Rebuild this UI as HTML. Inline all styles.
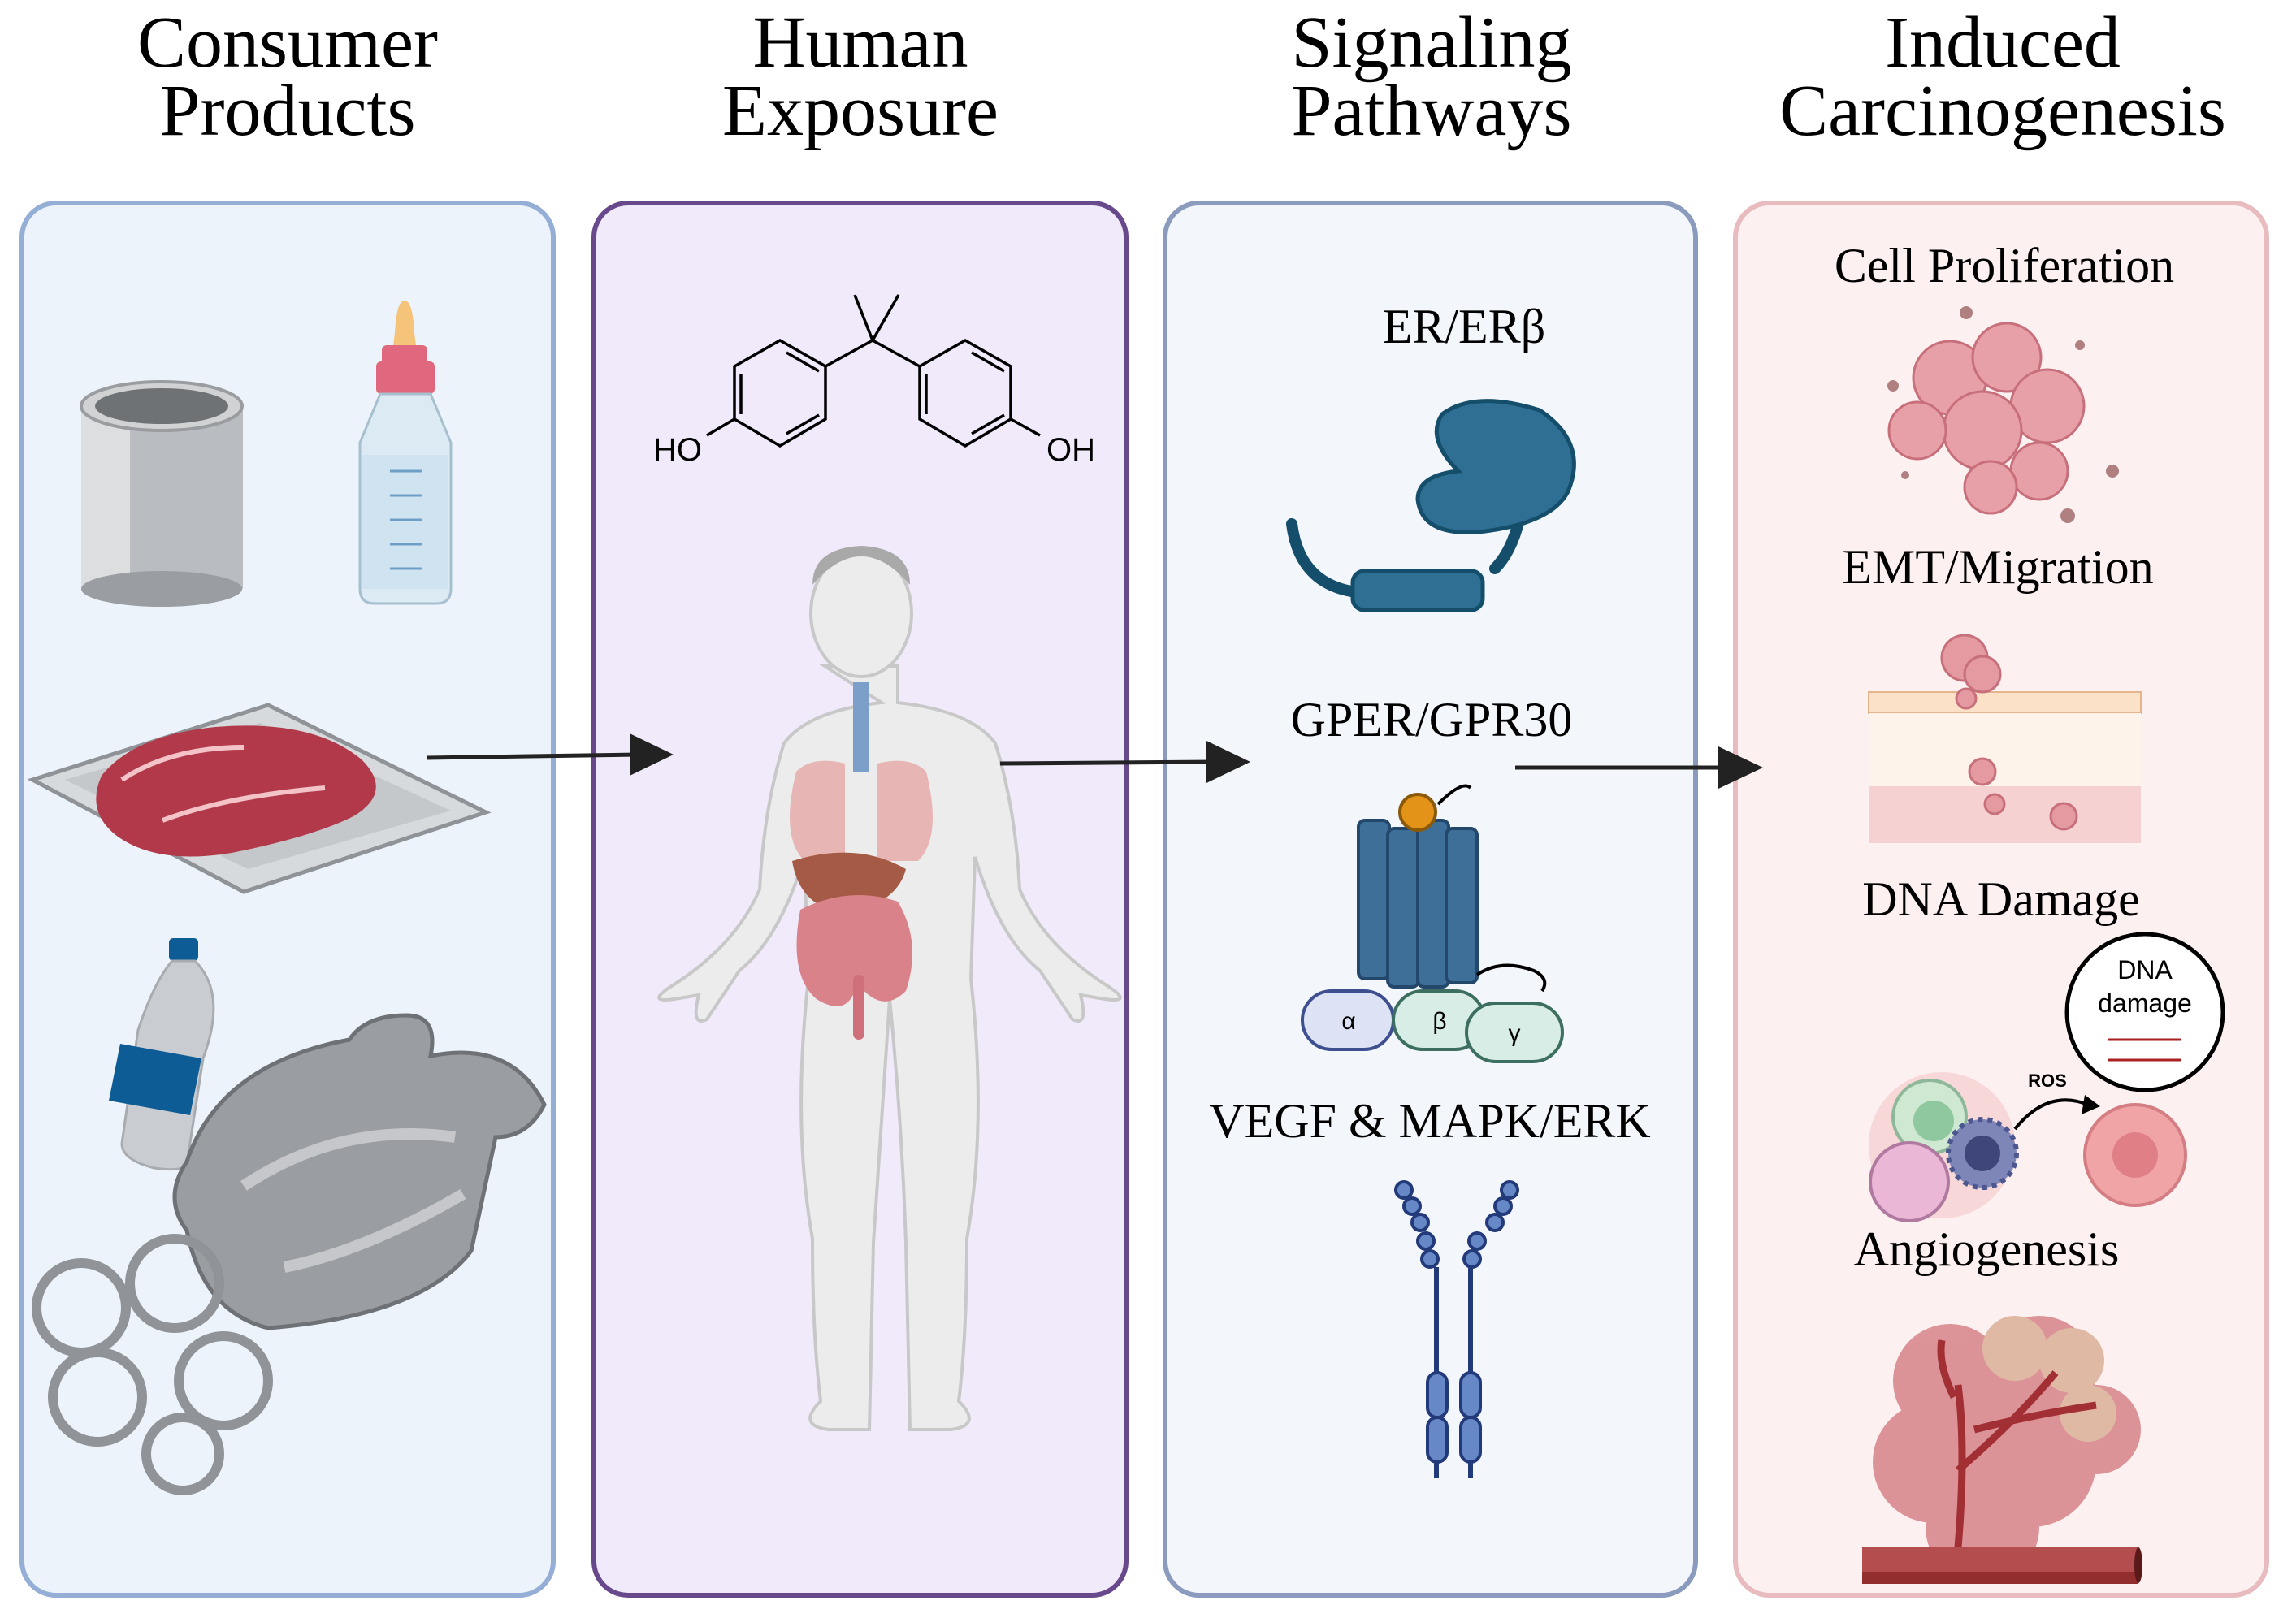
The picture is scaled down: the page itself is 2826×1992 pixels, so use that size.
<!DOCTYPE html>
<html><head><meta charset="utf-8"><style>
html,body{margin:0;padding:0;background:#fff;}
svg{display:block;}
.t{font-family:"Liberation Serif",serif;font-size:90px;fill:#000;text-anchor:middle;}
.l{font-family:"Liberation Serif",serif;font-size:60px;fill:#000;text-anchor:middle;}
.s{font-family:"Liberation Sans",sans-serif;fill:#000;text-anchor:middle;}
</style></head><body>
<svg width="2826" height="1992" viewBox="0 0 2826 1992" xmlns="http://www.w3.org/2000/svg">
<!-- titles -->
<text class="t" x="354" y="82">Consumer</text><text class="t" x="354" y="166">Products</text>
<text class="t" x="1059" y="82">Human</text><text class="t" x="1059" y="166">Exposure</text>
<text class="t" x="1762" y="82">Signaling</text><text class="t" x="1762" y="166">Pathways</text>
<text class="t" x="2465" y="82">Induced</text><text class="t" x="2465" y="166">Carcinogenesis</text>
<!-- panels -->
<rect x="27" y="250" width="654" height="1714" rx="42" fill="#edf3fb" stroke="#94aed6" stroke-width="6"/>
<rect x="731" y="250" width="655" height="1714" rx="42" fill="#f0eafa" stroke="#684a8c" stroke-width="6"/>
<rect x="1434" y="250" width="653" height="1714" rx="42" fill="#f3f6fb" stroke="#8a9bbd" stroke-width="6"/>
<rect x="2136" y="250" width="654" height="1714" rx="42" fill="#fdf0f0" stroke="#e8bcbf" stroke-width="6"/>

<!-- can -->
<rect x="100" y="500" width="199" height="225" fill="#b9bcc0"/>
<rect x="100" y="500" width="60" height="225" fill="#dcdee0"/>
<ellipse cx="199" cy="725" rx="99" ry="22" fill="#9a9ea3"/>
<ellipse cx="199" cy="500" rx="99" ry="30" fill="#d0d2d4" stroke="#9a9da0" stroke-width="4"/>
<ellipse cx="199" cy="500" rx="82" ry="22" fill="#6e7275"/>
<!-- baby bottle -->
<path d="M498 370 q10 0 12 40 l8 60 h-40 l8 -60 q2 -40 12 -40z" fill="#f5c37a"/>
<rect x="470" y="425" width="56" height="25" rx="6" fill="#e0687e"/>
<rect x="463" y="445" width="72" height="40" rx="6" fill="#e0687e"/>
<path d="M468 485 h62 l25 60 v180 q0 18 -18 18 h-76 q-18 0 -18 -18 v-180z" fill="#dbeaf3" stroke="#a7c0cf" stroke-width="3"/>
<rect x="446" y="560" width="106" height="165" fill="#cfe3f1"/>
<g stroke="#6e9fc6" stroke-width="3"><line x1="480" y1="580" x2="520" y2="580"/><line x1="480" y1="610" x2="520" y2="610"/><line x1="480" y1="640" x2="520" y2="640"/><line x1="480" y1="670" x2="520" y2="670"/><line x1="480" y1="700" x2="520" y2="700"/></g>
<!-- meat tray -->
<path d="M40 960 L330 868 L598 1000 L300 1098 Z" fill="#d7dadd" stroke="#8f9397" stroke-width="5"/>
<path d="M80 960 L320 890 L555 998 L305 1070 Z" fill="#c5c8cb"/>
<path d="M125 955 q40 -50 140 -60 q120 -10 180 40 q40 40 -10 70 q-50 25 -150 45 q-90 15 -140 -20 q-40 -30 -20 -75z" fill="#b1394a"/>
<path d="M150 960 q60 -40 150 -40 M200 1010 q80 -30 200 -40" stroke="#f3c3c8" stroke-width="6" fill="none"/>
<!-- water bottle -->
<rect x="208" y="1155" width="36" height="28" rx="5" fill="#0d5c96"/>
<path d="M212 1183 h28 q40 40 10 120 l-20 130 q-5 10 -40 5 q-40 -10 -40 -30 l20 -140 q20 -60 42 -85z" fill="#c9ccd0" stroke="#a8abaf" stroke-width="3"/>
<path d="M148 1285 l100 18 l-14 70 l-100 -18z" fill="#0d5c96"/>
<!-- bag -->
<path d="M230 1430 q40 -120 200 -150 q20 -30 70 -30 q40 0 30 50 q100 -20 140 60 q-20 40 -60 40 l-30 140 q-60 80 -250 95 q-80 -20 -100 -120 q-30 -40 0 -85z" fill="#9a9da1" stroke="#6e7276" stroke-width="5"/>
<path d="M300 1460 q120 -80 260 -60 M350 1560 q100 -20 220 -90" stroke="#c5c7ca" stroke-width="14" fill="none"/>
<!-- six pack rings -->
<g fill="none" stroke="#909397" stroke-width="12">
<circle cx="100" cy="1610" r="55"/><circle cx="215" cy="1580" r="55"/><circle cx="120" cy="1720" r="55"/><circle cx="275" cy="1700" r="55"/><circle cx="225" cy="1790" r="45"/>
</g>

<!-- BPA -->
<g fill="none" stroke="#000" stroke-width="3.5">
<polygon points="960,419 1016,451 1016,516 960,549 904,516 904,451"/>
<polygon points="1188,419 1244,451 1244,516 1188,549 1132,516 1132,451"/>
<line x1="1016" y1="451" x2="1074" y2="419"/><line x1="1074" y1="419" x2="1132" y2="451"/>
<line x1="1074" y1="419" x2="1052" y2="363"/><line x1="1074" y1="419" x2="1106" y2="363"/>
<line x1="904" y1="516" x2="870" y2="536"/><line x1="1244" y1="516" x2="1280" y2="536"/>
<line x1="968" y1="434" x2="1008" y2="457"/><line x1="912" y1="460" x2="912" y2="510"/><line x1="968" y1="534" x2="1008" y2="511"/>
<line x1="1196" y1="434" x2="1236" y2="457"/><line x1="1140" y1="460" x2="1140" y2="510"/><line x1="1196" y1="534" x2="1236" y2="511"/>
</g>
<text class="s" x="834" y="567" font-size="40">HO</text>
<text class="s" x="1318" y="567" font-size="40">OH</text>
<!-- human body -->
<g fill="#ececec" stroke="#c8c8c8" stroke-width="4">
<path d="M1015 820 h90 v45 q90 10 120 50 q25 80 30 180 q30 70 110 120 q30 20 -5 15 l-30 -5 q10 40 -10 30 l-40 -60 q-50 -40 -80 -140 l-5 150 q20 180 -5 320 q0 120 -10 200 q30 30 -10 35 h-50 l-5 -230 q-5 -150 -20 -300 q-10 150 -20 300 l-5 230 h-50 q-40 -5 -10 -35 q-10 -80 -10 -200 q-25 -140 -5 -320 l-5 -150 q-30 100 -80 140 l-40 60 q-20 10 -10 -30 l-30 5 q-35 5 -5 -15 q80 -50 110 -120 q5 -100 30 -180 q30 -40 120 -50z"/>
<ellipse cx="1060" cy="755" rx="62" ry="78"/>
</g>
<path d="M1000 720 q60 -70 120 0 q0 -45 -60 -48 q-60 3 -60 48z" fill="#a9a9a9"/>
<path d="M980 950 q-20 80 10 110 h50 v-120 q-40 -10 -60 10z M1140 950 q20 80 -10 110 h-50 v-120 q40 -10 60 10z" fill="#e7a7a7" opacity=".8"/>
<rect x="1050" y="840" width="20" height="110" fill="#7b9fc9"/>
<path d="M975 1060 q80 -25 140 10 q-10 40 -70 55 q-60 -5 -70 -65z" fill="#a55a45"/>
<path d="M985 1120 q-15 80 20 110 q40 25 50 -20 q30 40 60 10 q20 -60 -10 -110 q-60 -20 -120 10z" fill="#d9828a"/>
<rect x="1050" y="1200" width="14" height="80" rx="7" fill="#cf6f79"/>
<!-- arrows -->
<g fill="#222" stroke="#222">
<line x1="525" y1="933" x2="785" y2="929" stroke-width="5"/><polygon points="775,903 829,929 775,955" stroke="none"/>
<line x1="1231" y1="940" x2="1495" y2="938" stroke-width="5"/><polygon points="1485,912 1539,938 1485,964" stroke="none"/>
<line x1="1865" y1="945" x2="2125" y2="945" stroke-width="5"/><polygon points="2115,919 2170,945 2115,971" stroke="none"/>
</g>

<!-- panel 3 -->
<text class="l" x="1802" y="422">ER/ERβ</text>
<path d="M1590 645 q10 80 90 85 M1840 700 q20 -20 30 -60" stroke="#144e6a" stroke-width="14" fill="none" stroke-linecap="round"/>
<rect x="1665" y="703" width="160" height="48" rx="14" fill="#2e6f93" stroke="#144e6a" stroke-width="5"/>
<path d="M1775 510 q40 -30 120 -5 q60 40 35 100 q-20 40 -110 50 q-70 5 -75 -40 q0 -30 50 -35 q-40 -40 -20 -70z" fill="#2e6f93" stroke="#144e6a" stroke-width="5"/>
<text class="l" x="1762" y="906">GPER/GPR30</text>
<g fill="#3d6f99" stroke="#23486b" stroke-width="4">
<rect x="1672" y="1010" width="38" height="195" rx="8"/><rect x="1708" y="1020" width="38" height="195" rx="8"/><rect x="1745" y="1010" width="38" height="205" rx="8"/><rect x="1780" y="1020" width="38" height="190" rx="8"/>
</g>
<circle cx="1745" cy="1000" r="22" fill="#e29318" stroke="#8a5a0a" stroke-width="4"/>
<path d="M1770 990 q30 -30 40 -20 M1818 1200 q30 -20 70 -5 q20 10 10 25" stroke="#000" stroke-width="4" fill="none"/>
<rect x="1603" y="1220" width="112" height="72" rx="36" fill="#dde3f5" stroke="#3d4f8f" stroke-width="4"/>
<rect x="1715" y="1220" width="112" height="72" rx="36" fill="#d7ede6" stroke="#3d6f60" stroke-width="4"/>
<rect x="1805" y="1235" width="118" height="72" rx="36" fill="#d7ede6" stroke="#3d6f60" stroke-width="4"/>
<text class="s" x="1660" y="1267" font-size="30">α</text>
<text class="s" x="1772" y="1267" font-size="30">β</text>
<text class="s" x="1864" y="1282" font-size="30">γ</text>
<text class="l" x="1760" y="1400">VEGF &amp; MAPK/ERK</text>
<g fill="#6788c6" stroke="#22397a" stroke-width="4">
<circle cx="1728" cy="1465" r="10"/><circle cx="1738" cy="1485" r="10"/><circle cx="1748" cy="1505" r="10"/><circle cx="1755" cy="1528" r="10"/><circle cx="1760" cy="1550" r="10"/>
<circle cx="1858" cy="1465" r="10"/><circle cx="1850" cy="1485" r="10"/><circle cx="1840" cy="1505" r="10"/><circle cx="1818" cy="1528" r="10"/><circle cx="1812" cy="1550" r="10"/>
<rect x="1757" y="1690" width="24" height="55" rx="12"/><rect x="1757" y="1745" width="24" height="55" rx="12"/>
<rect x="1798" y="1690" width="24" height="55" rx="12"/><rect x="1798" y="1745" width="24" height="55" rx="12"/>
</g>
<g stroke="#22397a" stroke-width="6"><line x1="1768" y1="1560" x2="1768" y2="1690"/><line x1="1810" y1="1560" x2="1810" y2="1690"/><line x1="1768" y1="1800" x2="1768" y2="1820"/><line x1="1810" y1="1800" x2="1810" y2="1820"/></g>

<!-- panel 4 -->
<text class="l" x="2467" y="347">Cell Proliferation</text>
<g fill="#e8a0a8" stroke="#c76f7a" stroke-width="3">
<circle cx="2400" cy="465" r="45"/><circle cx="2470" cy="440" r="42"/><circle cx="2520" cy="500" r="45"/><circle cx="2440" cy="530" r="48"/><circle cx="2360" cy="530" r="35"/><circle cx="2510" cy="580" r="35"/><circle cx="2450" cy="600" r="32"/>
</g>
<g fill="#b08080"><circle cx="2420" cy="385" r="8"/><circle cx="2560" cy="425" r="6"/><circle cx="2330" cy="475" r="7"/><circle cx="2600" cy="580" r="8"/><circle cx="2545" cy="635" r="9"/><circle cx="2345" cy="585" r="5"/></g>
<text class="l" x="2459" y="718">EMT/Migration</text>
<rect x="2300" y="852" width="335" height="26" fill="#fbe1c8" stroke="#e6b48c" stroke-width="2"/>
<rect x="2300" y="878" width="335" height="90" fill="#fdf3ea"/>
<rect x="2300" y="968" width="335" height="70" fill="#f6d1d1"/>
<g fill="#e59aa1" stroke="#c76f7a" stroke-width="3"><circle cx="2418" cy="810" r="28"/><circle cx="2440" cy="830" r="22"/><circle cx="2420" cy="860" r="12"/><circle cx="2440" cy="950" r="16"/><circle cx="2455" cy="990" r="12"/><circle cx="2540" cy="1005" r="16"/></g>
<text class="l" x="2463" y="1127">DNA Damage</text>
<circle cx="2640" cy="1246" r="96" fill="#fff" stroke="#000" stroke-width="5"/>
<text class="s" x="2640" y="1205" font-size="32">DNA</text>
<text class="s" x="2640" y="1246" font-size="32">damage</text>
<g stroke="#a82020" stroke-width="3"><line x1="2595" y1="1280" x2="2685" y2="1280"/><line x1="2595" y1="1305" x2="2685" y2="1305"/></g>
<circle cx="2390" cy="1410" r="90" fill="#f4c6c6" opacity=".6"/>
<circle cx="2375" cy="1375" r="45" fill="#cfe8d2" stroke="#8fb89a" stroke-width="4"/><circle cx="2380" cy="1380" r="25" fill="#8fc79e"/>
<circle cx="2350" cy="1455" r="48" fill="#eab7d6" stroke="#b07aa0" stroke-width="4"/>
<circle cx="2440" cy="1420" r="42" fill="#7e86b8" stroke="#4c5790" stroke-width="6" stroke-dasharray="6 6"/><circle cx="2440" cy="1420" r="22" fill="#3f467a"/>
<path d="M2480 1390 q40 -50 90 -30" stroke="#000" stroke-width="4" fill="none"/><polygon points="2566,1348 2585,1362 2562,1372"/>
<text class="s" x="2520" y="1338" font-size="22" font-weight="bold" fill="#a02020">ROS</text>
<circle cx="2628" cy="1422" r="62" fill="#f0a4a6" stroke="#d47d82" stroke-width="4"/><circle cx="2628" cy="1422" r="28" fill="#e07f85"/>
<text class="l" x="2445" y="1558">Angiogenesis</text>
<g fill="#d88a8f" opacity=".9"><circle cx="2400" cy="1700" r="70"/><circle cx="2510" cy="1690" r="70"/><circle cx="2380" cy="1800" r="75"/><circle cx="2500" cy="1800" r="80"/><circle cx="2580" cy="1760" r="55"/><circle cx="2440" cy="1880" r="70"/></g>
<g fill="#dfb9a3"><circle cx="2480" cy="1660" r="40"/><circle cx="2550" cy="1675" r="40"/><circle cx="2570" cy="1740" r="35"/></g>
<path d="M2410 1905 q10 -120 0 -200 M2410 1810 q70 -60 120 -120 M2430 1760 q80 -20 150 -30 M2405 1720 q-20 -40 -15 -70" stroke="#a12f33" stroke-width="9" fill="none"/>
<rect x="2292" y="1905" width="340" height="45" fill="#b44d4d"/>
<rect x="2292" y="1935" width="340" height="15" fill="#932e2e"/>
<ellipse cx="2632" cy="1927" rx="5" ry="22" fill="#5a1a1a"/>
</svg>
</body></html>
